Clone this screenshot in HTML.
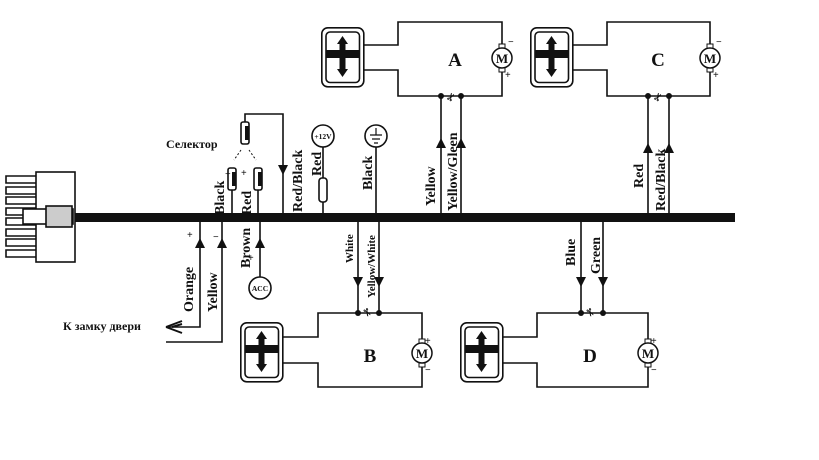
<!DOCTYPE html>
<html><head><meta charset="utf-8"><style>
html,body{margin:0;padding:0;background:#fff}
svg{display:block}
text{font-family:"Liberation Serif",serif;font-weight:bold;fill:#111}
.s{font-family:"Liberation Sans","DejaVu Sans",sans-serif}
</style></head><body>
<svg width="819" height="460" viewBox="0 0 819 460" xmlns="http://www.w3.org/2000/svg">
<defs>
<g id="lock">
<rect x="0.8" y="0.8" width="42" height="59" rx="6" fill="#fff" stroke="#111" stroke-width="1.6"/>
<rect x="5" y="5" width="33.5" height="50.5" rx="4" fill="none" stroke="#111" stroke-width="1.6"/>
<rect x="5" y="23" width="33.5" height="8" fill="#111"/>
<rect x="18.5" y="16" width="6" height="28" fill="#111"/>
<polygon points="21.5,9 27,17 16,17" fill="#111"/>
<polygon points="21.5,50 27,42 16,42" fill="#111"/>
</g>
<g id="mot">
<rect x="-3" y="-14" width="6" height="5" fill="#fff" stroke="#111" stroke-width="1"/>
<rect x="-3" y="9" width="6" height="5" fill="#fff" stroke="#111" stroke-width="1"/>
<circle r="10" fill="#fff" stroke="#111" stroke-width="1.5"/>
<text x="0" y="5" font-size="13" text-anchor="middle">M</text>
</g>
<polygon id="au" points="0,-7 5,3 -5,3" fill="#111"/>
<polygon id="ad" points="0,7 5,-3 -5,-3" fill="#111"/>
</defs>

<g stroke="#111" stroke-width="1.6" fill="none">
<rect x="36" y="172" width="39" height="90"/>
<path d="M36 176H6V183H36 M36 187H6V194H36 M36 197H6V204H36 M36 208H6V215H36 M36 218H6V225H36 M36 229H6V236H36 M36 239H6V246H36 M36 250H6V257H36"/>
<rect x="23" y="209" width="50" height="15" fill="#fff"/>
<rect x="46" y="206" width="26" height="21" fill="#ccc"/>
<path d="M363 45H398V22H502V48 M502 68V96H398V70H363"/>
<path d="M572 45H607V22H710V48 M710 68V96H607V70H572"/>
<path d="M283 337H318V313H422V343 M422 363V387H318V363H283"/>
<path d="M503 337H537V313H648V343 M648 363V387H537V363H503"/>
<path d="M441 96V215 M461 96V215 M648 96V215 M669 96V215"/>
<path d="M358 222V313 M379 222V313 M581 222V313 M603 222V313"/>
<path d="M232 190V215 M258 190V215 M245 122V114H283V215"/>
<path d="M323 147V215 M376 147V215"/>
<path d="M200 222V327H168 M222 222V342H166 M260 222V277"/>
<circle cx="323" cy="136" r="11" fill="#fff"/>
<circle cx="376" cy="136" r="11" fill="#fff"/>
<circle cx="260" cy="288" r="11" fill="#fff"/>
<rect x="319" y="178" width="8" height="24" rx="3" fill="#fff"/>
<path d="M370 135H382 M372 139H380 M374 143H378 M376 128V135" stroke-width="1.2"/>
<path d="M166 327L182 321 M166 327L182 333 M172 327L182 324" stroke-width="2"/>
<rect x="241" y="122" width="8" height="22" rx="2" fill="#fff"/>
<rect x="228" y="168" width="8" height="22" rx="2" fill="#fff"/>
<rect x="254" y="168" width="8" height="22" rx="2" fill="#fff"/>
<path d="M241 150L234 160 M249 150L256 160" stroke-dasharray="2,2" stroke-width="1"/>
</g>
<rect x="75" y="213" width="660" height="9" fill="#111"/>
<g fill="#111">
<rect x="232" y="172" width="4" height="14"/><rect x="258" y="172" width="4" height="14"/><rect x="245" y="126" width="4" height="14"/>
<circle cx="441" cy="96" r="3"/><circle cx="461" cy="96" r="3"/>
<circle cx="648" cy="96" r="3"/><circle cx="669" cy="96" r="3"/>
<circle cx="358" cy="313" r="3"/><circle cx="379" cy="313" r="3"/>
<circle cx="581" cy="313" r="3"/><circle cx="603" cy="313" r="3"/>
</g>
<use href="#lock" x="321" y="27"/>
<use href="#lock" x="530" y="27"/>
<use href="#lock" x="240" y="322"/>
<use href="#lock" x="460" y="322"/>
<use href="#mot" x="502" y="58"/>
<use href="#mot" x="710" y="58"/>
<use href="#mot" x="422" y="353"/>
<use href="#mot" x="648" y="353"/>
<use href="#au" x="441" y="145"/><use href="#au" x="461" y="145"/>
<use href="#au" x="648" y="150"/><use href="#au" x="669" y="150"/>
<use href="#au" x="200" y="245"/><use href="#au" x="222" y="245"/><use href="#au" x="260" y="245"/>
<use href="#ad" x="283" y="168"/>
<use href="#ad" x="358" y="280"/><use href="#ad" x="379" y="280"/>
<use href="#ad" x="581" y="280"/><use href="#ad" x="603" y="280"/>

<g font-size="10" class="s" fill="#111">
<text x="446" y="100" transform="rotate(-60 451 96)">✂</text>
<text x="653" y="100" transform="rotate(-60 658 96)">✂</text>
<text x="363" y="317" transform="rotate(60 368 313)">✂</text>
<text x="586" y="317" transform="rotate(60 591 313)">✂</text>
</g>
<g font-size="19">
<text x="455" y="66" text-anchor="middle">A</text>
<text x="658" y="66" text-anchor="middle">C</text>
<text x="370" y="362" text-anchor="middle">B</text>
<text x="590" y="362" text-anchor="middle">D</text>
</g>
<g font-size="10">
<text x="508" y="45">−</text><text x="505" y="78">+</text>
<text x="716" y="45">−</text><text x="713" y="78">+</text>
<text x="425" y="344">+</text><text x="425" y="373">−</text>
<text x="651" y="344">+</text><text x="651" y="373">−</text>
<text x="187" y="238">+</text><text x="213" y="240">−</text>
<text x="225" y="177">−</text><text x="241" y="176">+</text>
<text x="248" y="261">+</text>
</g>
<g font-size="7.5" text-anchor="middle">
<text x="323" y="139">+12V</text>
<text x="260" y="291">ACC</text>
</g>
<g font-size="14">
<text transform="translate(224 215) rotate(-90)">Black</text>
<text transform="translate(251 215) rotate(-90)">Red</text>
<text transform="translate(302 212) rotate(-90)">Red/Black</text>
<text transform="translate(321 176) rotate(-90)">Red</text>
<text transform="translate(372 190) rotate(-90)">Black</text>
<text transform="translate(435 206) rotate(-90)">Yellow</text>
<text transform="translate(457 211) rotate(-90)">Yellow/Gleen</text>
<text transform="translate(643 188) rotate(-90)">Red</text>
<text transform="translate(665 211) rotate(-90)">Red/Black</text>
<text transform="translate(193 312) rotate(-90)">Orange</text>
<text transform="translate(217 312) rotate(-90)">Yellow</text>
<text transform="translate(250 268) rotate(-90)">Brown</text>
<text transform="translate(600 274) rotate(-90)">Green</text>
<text transform="translate(575 266) rotate(-90)">Blue</text>
</g>
<g font-size="11">
<text transform="translate(353 263) rotate(-90)">White</text>
<text transform="translate(375 298) rotate(-90)">Yellow/White</text>
</g>
<g font-size="12" class="s">
<text x="166" y="148">Селектор</text>
<text x="63" y="330">К замку двери</text>
</g>
</svg>
</body></html>
